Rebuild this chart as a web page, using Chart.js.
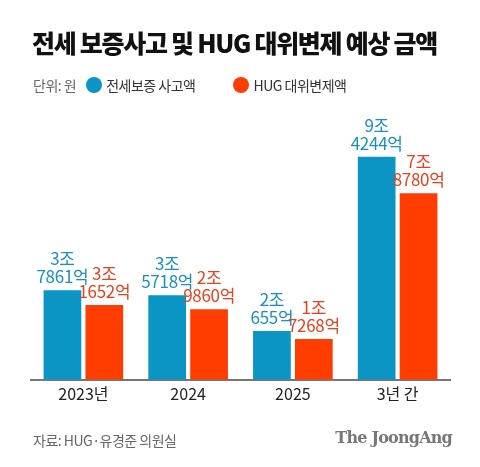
<!DOCTYPE html>
<html><head><meta charset="utf-8">
<script src="https://cdn.jsdelivr.net/npm/chart.js@4/dist/chart.umd.min.js"></script>
<style>
html,body{margin:0;padding:0;background:#fff;}
body{width:480px;height:467px;position:relative;overflow:hidden;font-family:"Noto Sans CJK KR","Noto Sans",sans-serif;}
#title{position:absolute;left:32px;top:24px;font-size:25px;font-weight:900;color:#111;letter-spacing:-1.3px;white-space:nowrap;}
#legend{position:absolute;left:33px;top:75px;font-size:14px;color:#333;white-space:nowrap;display:flex;align-items:center;letter-spacing:-0.5px;}
#legend .unit{color:#666;margin-right:10px;}
#legend .dot{display:inline-block;width:16px;height:16px;border-radius:50%;margin-right:4px;}
#src{position:absolute;left:33px;top:430px;font-size:14px;color:#666;letter-spacing:-0.5px;}
#brand{position:absolute;right:28px;top:428px;font-family:"DejaVu Serif","Liberation Serif",serif;font-weight:bold;font-size:16px;color:#777;letter-spacing:-0.8px;}
#wrap{position:absolute;left:0;top:0;width:480px;height:467px;}
</style></head>
<body>
<div id="wrap"><canvas id="c" width="480" height="467"></canvas></div>
<div id="title">전세 보증사고 및 HUG 대위변제 예상 금액</div>
<div id="legend"><span class="unit">단위: 원</span><span class="dot" style="background:#0A95C5"></span><span style="margin-right:38px">전세보증 사고액</span><span class="dot" style="background:#FF3D00"></span><span>HUG 대위변제액</span></div>
<div id="src">자료: HUG·유경준 의원실</div>
<div id="brand">The JoongAng</div>
<script>
const categories = ["2023년", "2024", "2025", "3년 간"];
// values in 억 원
const accidentValues = [37861, 35718, 20655, 94244];
const subrogationValues = [31652, 29860, 17268, 78780];
const seriesNames = ["전세보증 사고액", "HUG 대위변제액"];
const barColors = ["#0A95C5", "#FF3D00"];
const labelColors = ["#1A90BC", "#E8421C"];

function fmt(v){
  const jo = Math.floor(v/10000), eok = v % 10000;
  return [jo + "조", eok + "억"];
}

const labelPlugin = {
  id: "vlabels",
  afterDatasetsDraw(chart){
    const ctx = chart.ctx;
    ctx.save();
    ctx.font = '17px "Noto Sans CJK KR", sans-serif';
    ctx.textAlign = "center";
    ctx.textBaseline = "alphabetic";
    try { ctx.letterSpacing = "-0.3px"; } catch(e) {}
    chart.data.datasets.forEach((ds, i) => {
      const meta = chart.getDatasetMeta(i);
      ctx.fillStyle = labelColors[i];
      meta.data.forEach((bar, j) => {
        const lines = fmt(ds.data[j]);
        ctx.fillText(lines[1], bar.x, bar.y - 7);
        ctx.fillText(lines[0], bar.x, bar.y - 25);
      });
    });
    ctx.restore();
  }
};

new Chart(document.getElementById("c"), {
  type: "bar",
  data: {
    labels: categories,
    datasets: [
      {label: seriesNames[0], data: accidentValues, backgroundColor: barColors[0], barPercentage: 0.9, categoryPercentage: 0.8},
      {label: seriesNames[1], data: subrogationValues, backgroundColor: barColors[1], barPercentage: 0.9, categoryPercentage: 0.8}
    ]
  },
  options: {
    responsive: false,
    animation: false,
    events: [],
    layout: {padding: {left: 31, right: 30, top: 130, bottom: 58}},
    plugins: {legend: {display: false}, tooltip: {enabled: false}},
    scales: {
      y: {display: false, min: 0, max: 105550},
      x: {
        grid: {display: false, drawTicks: false},
        border: {display: true, color: "#777", width: 2},
        ticks: {color: "#222", padding: 5, font: {size: 16, family: '"Noto Sans CJK KR", sans-serif'}}
      }
    }
  },
  plugins: [labelPlugin]
});
</script>
</body></html>
